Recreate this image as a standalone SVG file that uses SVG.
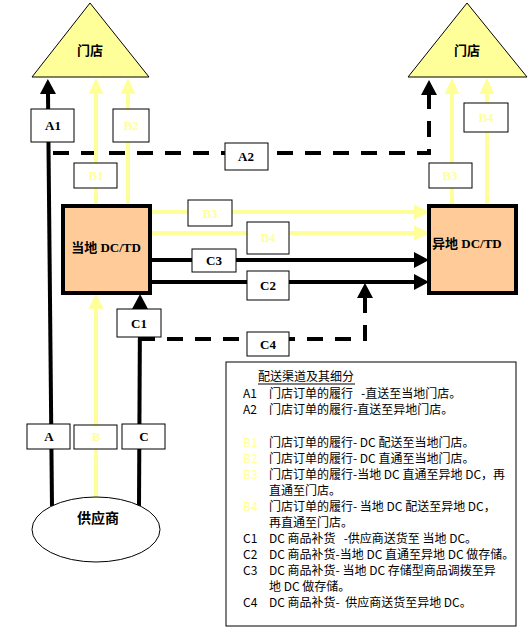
<svg xmlns="http://www.w3.org/2000/svg" width="529" height="638" viewBox="0 0 529 638">
<style>
.tri{fill:#FFFF99;stroke:#000;stroke-width:1}
.dc{fill:#FFCC99;stroke:#000;stroke-width:4}
.lbl{fill:#fff;stroke:#000;stroke-width:1}
.bk{fill:none;stroke:#000;stroke-width:4}
.yl{fill:none;stroke:#FFFF99;stroke-width:4}
.dash{fill:none;stroke:#000;stroke-width:4;stroke-dasharray:16 12}
.bt{font-family:"Liberation Serif","Noto Sans CJK SC",serif;font-weight:bold;font-size:13px;text-anchor:middle}
.cjk{font-family:"Noto Sans CJK SC",sans-serif;font-weight:bold;font-size:13px;text-anchor:middle}
.lg{font-family:"Noto Sans CJK SC",sans-serif;font-size:12px}
.y{fill:#FFFF99}
</style>
<defs>
<marker id="ab" markerUnits="userSpaceOnUse" markerWidth="16" markerHeight="16" refX="0" refY="8" orient="auto" viewBox="0 0 15 16">
<path d="M0,0 L15,8 L0,16 z" fill="#000"/>
</marker>
<marker id="ay" markerUnits="userSpaceOnUse" markerWidth="16" markerHeight="16" refX="0" refY="7" orient="auto" viewBox="0 0 15 14">
<path d="M0,0 L15,7 L0,14 z" fill="#FFFF99"/>
</marker>
</defs>
<rect width="529" height="638" fill="#fff"/>

<g id="connectors">
<line class="bk" x1="52" y1="506" x2="48" y2="94" marker-end="url(#ab)"/>
<path class="dash" d="M53,153 H429 V95" marker-end="url(#ab)"/>
<line class="yl" x1="96" y1="206" x2="96" y2="94" marker-end="url(#ay)"/>
<line class="yl" x1="128" y1="206" x2="128" y2="94" marker-end="url(#ay)"/>
<line class="yl" x1="452" y1="206" x2="452" y2="94" marker-end="url(#ay)"/>
<line class="yl" x1="487" y1="206" x2="487" y2="94" marker-end="url(#ay)"/>
<line class="yl" x1="150" y1="212" x2="414" y2="212" marker-end="url(#ay)"/>
<line class="yl" x1="150" y1="233" x2="414" y2="233" marker-end="url(#ay)"/>
<line class="bk" x1="150" y1="260" x2="414" y2="260" marker-end="url(#ab)"/>
<line class="bk" x1="150" y1="282" x2="414" y2="282" marker-end="url(#ab)"/>
<line class="yl" x1="96" y1="497" x2="96" y2="309" marker-end="url(#ay)"/>
<line class="bk" x1="139" y1="506" x2="140" y2="309" marker-end="url(#ab)"/>
<path class="dash" d="M139,339 H365 V298" marker-end="url(#ab)"/>
</g>

<g id="store-local">
<polygon class="tri" points="90,3 149,77 32,77"/>
<text class="cjk" x="90" y="55">门店</text>
</g>
<g id="store-remote">
<polygon class="tri" points="467,3 527,77 408,77"/>
<text class="cjk" x="467" y="55">门店</text>
</g>
<g id="dc-local">
<rect class="dc" x="63" y="206" width="87" height="87"/>
<text class="bt" x="106" y="252">当地 DC/TD</text>
</g>
<g id="dc-remote">
<rect class="dc" x="429" y="206" width="87" height="87"/>
<text class="bt" x="432" y="248" style="text-anchor:start">异地 DC/TD</text>
</g>
<g id="supplier">
<ellipse cx="96" cy="529.5" rx="64" ry="32.5" fill="#fff" stroke="#000" stroke-width="1"/>
<text class="cjk" x="98" y="523" style="font-size:14px">供应商</text>
</g>

<g id="label-A1"><rect class="lbl" x="31" y="109" width="43" height="33"/><text class="bt" x="53" y="130">A1</text></g>
<g id="label-B2"><rect class="lbl" x="113" y="109" width="36" height="33"/><text class="bt y" x="131" y="130">B2</text></g>
<g id="label-B1"><rect class="lbl" x="74" y="163" width="43" height="25"/><text class="bt y" x="96" y="180">B1</text></g>
<g id="label-A2"><rect class="lbl" x="225" y="143" width="43" height="27"/><text class="bt" x="246" y="161">A2</text></g>
<g id="label-B4top"><rect class="lbl" x="464" y="103" width="44" height="29"/><text class="bt y" x="486" y="122">B4</text></g>
<g id="label-B3top"><rect class="lbl" x="429" y="163" width="43" height="25"/><text class="bt y" x="450" y="180">B3</text></g>
<g id="label-B3"><rect class="lbl" x="188" y="200" width="44" height="26"/><text class="bt y" x="210" y="218">B3</text></g>
<g id="label-B4"><rect class="lbl" x="247" y="222" width="42" height="32"/><text class="bt y" x="268" y="242">B4</text></g>
<g id="label-C3"><rect class="lbl" x="192" y="249" width="44" height="23"/><text class="bt" x="214" y="265">C3</text></g>
<g id="label-C2"><rect class="lbl" x="247" y="271" width="42" height="29"/><text class="bt" x="268" y="290">C2</text></g>
<g id="label-C1"><rect class="lbl" x="117" y="309" width="44" height="28"/><text class="bt" x="139" y="328">C1</text></g>
<g id="label-C4"><rect class="lbl" x="247" y="332" width="42" height="24"/><text class="bt" x="268" y="349">C4</text></g>
<g id="label-A"><rect class="lbl" x="27" y="424" width="43" height="25"/><text class="bt" x="49" y="441">A</text></g>
<g id="label-B"><rect class="lbl" x="74" y="425" width="43" height="24"/><text class="bt y" x="96" y="441">B</text></g>
<g id="label-C"><rect class="lbl" x="122" y="424" width="43" height="25"/><text class="bt" x="144" y="441">C</text></g>

<g id="legend">
<rect x="226" y="362" width="290" height="264" fill="#fff" stroke="#000" stroke-width="1"/>
<text class="lg" x="258" y="381">配送渠道及其细分</text>
<line x1="258" y1="384" x2="355" y2="384" stroke="#000" stroke-width="1"/>
<text class="lg" x="243" y="398">A1</text><text class="lg" x="269" y="398">门店订单的履行&#160;&#160;&#160;-直送至当地门店。</text>
<text class="lg" x="243" y="414">A2</text><text class="lg" x="269" y="414">门店订单的履行-直送至异地门店。</text>
<text class="lg y" x="243" y="447">B1</text><text class="lg" x="269" y="447">门店订单的履行- DC 配送至当地门店。</text>
<text class="lg y" x="243" y="463">B2</text><text class="lg" x="269" y="463">门店订单的履行- DC 直通至当地门店。</text>
<text class="lg y" x="243" y="479">B3</text><text class="lg" x="269" y="479">门店订单的履行-当地 DC 直通至异地 DC，再</text>
<text class="lg" x="269" y="495">直通至门店。</text>
<text class="lg y" x="243" y="511">B4</text><text class="lg" x="269" y="511">门店订单的履行- 当地 DC 配送至异地 DC，</text>
<text class="lg" x="269" y="527">再直通至门店。</text>
<text class="lg" x="243" y="543">C1</text><text class="lg" x="269" y="543">DC 商品补货&#160;&#160;&#160;-供应商送货至 当地 DC。</text>
<text class="lg" x="243" y="559">C2</text><text class="lg" x="269" y="559">DC 商品补货-当地 DC 直通至异地 DC 做存储。</text>
<text class="lg" x="243" y="575">C3</text><text class="lg" x="269" y="575">DC 商品补货- 当地 DC 存储型商品调拨至异</text>
<text class="lg" x="269" y="591">地 DC 做存储。</text>
<text class="lg" x="243" y="607">C4</text><text class="lg" x="269" y="607">DC 商品补货-&#160;&#160;供应商送货至异地 DC。</text>
</g>
</svg>
